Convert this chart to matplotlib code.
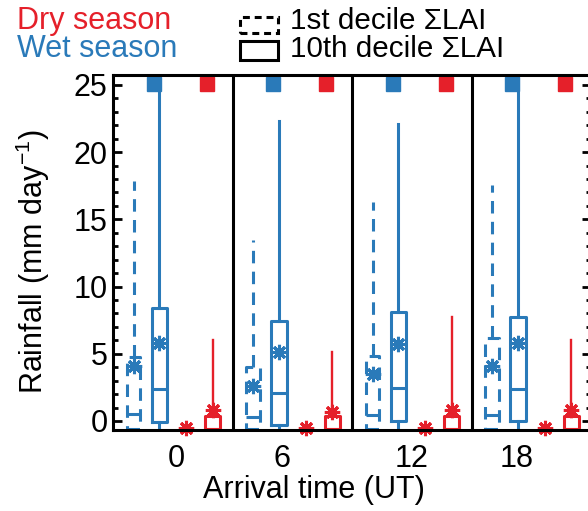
import numpy as np
import matplotlib
matplotlib.use('Agg')
import matplotlib.pyplot as plt
from matplotlib.patches import Rectangle
from matplotlib.ticker import MultipleLocator

plt.rcParams['font.family'] = ['Liberation Sans', 'DejaVu Sans']
plt.rcParams['mathtext.default'] = 'regular'
plt.rcParams['lines.scale_dashes'] = False

# arrival times (UT), one panel each
times = [0, 6, 12, 18]

# wet season, 1st decile sum LAI
wet_d1_q1 = [-0.6, -0.6, -0.6, -0.6]
wet_d1_med = [0.53, 0.33, 0.43, 0.48]
wet_d1_q3 = [4.73, 3.99, 4.83, 6.2]
wet_d1_hi = [17.83, 13.43, 16.26, 17.52]
wet_d1_mean = [4.1, 2.63, 3.47, 4.1]

# wet season, 10th decile sum LAI
wet_d10_lo = [-0.6, -0.6, -0.6, -0.6]
wet_d10_q1 = [-0.1, -0.3, 0.0, 0.0]
wet_d10_med = [2.37, 2.05, 2.42, 2.37]
wet_d10_q3 = [8.4, 7.45, 8.08, 7.77]
wet_d10_hi = [27, 22.34, 22.13, 27]
wet_d10_mean = [5.78, 5.1, 5.72, 5.78]

# dry season, 1st decile sum LAI
dry_d1_mean = [-0.5, -0.5, -0.5, -0.5]

# dry season, 10th decile sum LAI
dry_d10_lo = [-0.6, -0.6, -0.6, -0.6]
dry_d10_q3 = [0.38, 0.38, 0.38, 0.38]
dry_d10_hi = [5.99, 5.15, 7.77, 5.99]
dry_d10_mean = [0.85, 0.64, 0.8, 0.8]

# significance markers (drawn at top)
sig_wet = [1, 1, 1, 1]
sig_dry = [1, 1, 1, 1]

BLUE = '#2a7ab9'
RED = '#e5202a'
LW = 2.2
DASH = (0, (9, 6))

fig = plt.figure(figsize=(5.88, 5.11), dpi=100)
ax = fig.add_axes([113 / 588, 81 / 511, 478 / 588, 355 / 511])

panel = np.arange(len(times))
off = [0.172, 0.389, 0.615, 0.835]


def draw(stats, pos, width, color, ls, wlw):
    props = dict(color=color, linewidth=LW, linestyle=ls)
    res = ax.bxp(stats, positions=pos, widths=width, showmeans=True,
                 showcaps=False, showfliers=False, manage_ticks=False,
                 boxprops=props, medianprops=props,
                 whiskerprops=dict(color=color, linewidth=wlw, linestyle=ls),
                 meanprops=dict(marker=(8, 2, 0), markersize=11,
                                markeredgecolor=color, markeredgewidth=2.2,
                                linestyle='none'))
    for m in res['means']:
        m.set_clip_on(False)


n = len(times)
st = [dict(q1=wet_d1_q1[i], med=wet_d1_med[i], q3=wet_d1_q3[i],
           whislo=wet_d1_q1[i], whishi=wet_d1_hi[i], mean=wet_d1_mean[i],
           fliers=[]) for i in range(n)]
draw(st, panel + off[0], 0.113, BLUE, DASH, LW)

st = [dict(q1=wet_d10_q1[i], med=wet_d10_med[i], q3=wet_d10_q3[i],
           whislo=wet_d10_lo[i], whishi=wet_d10_hi[i], mean=wet_d10_mean[i],
           fliers=[]) for i in range(n)]
draw(st, panel + off[1], 0.126, BLUE, '-', LW)

st = [dict(q1=-0.6, med=-0.6, q3=-0.6, whislo=-0.6, whishi=-0.6,
           mean=dry_d1_mean[i], fliers=[]) for i in range(n)]
draw(st, panel + off[2], 0.113, RED, DASH, 1.7)

st = [dict(q1=dry_d10_lo[i], med=dry_d10_lo[i], q3=dry_d10_q3[i],
           whislo=dry_d10_lo[i], whishi=dry_d10_hi[i],
           mean=dry_d10_mean[i], fliers=[]) for i in range(n)]
draw(st, panel + off[3], 0.126, RED, '-', 1.7)

for i in range(n):
    if sig_wet[i]:
        ax.plot(panel[i] + off[1] - 0.05, 25.07, 's', ms=9.5, color=BLUE)
    if sig_dry[i]:
        ax.plot(panel[i] + off[3] - 0.05, 25.07, 's', ms=9.5, color=RED)

for x in panel[1:]:
    ax.axvline(x, color='k', lw=LW, zorder=3)

ax.set_xlim(0, n)
ax.set_ylim(-0.67, 25.74)
ax.set_yticks(range(0, 26, 5))
ax.yaxis.set_minor_locator(MultipleLocator(1))
ax.tick_params(axis='y', which='both', direction='in', right=True,
               width=2, labelsize=22, pad=4)
ax.tick_params(axis='y', which='major', length=6.5)
ax.tick_params(axis='y', which='minor', length=3.5)
label_x = [0.527, 1.414, 2.502, 3.381]
ax.set_xticks(label_x, [str(t) for t in times])
ax.tick_params(axis='x', length=0, labelsize=22, pad=10)
for s in ax.spines.values():
    s.set_linewidth(LW)

fig.text(33 / 588, 1 - 262 / 511, 'Rainfall (mm day$^{-1}$)', rotation=90,
         ha='center', va='center', fontsize=22)
fig.text(314 / 588, 1 - 490 / 511, 'Arrival time (UT)', ha='center',
         va='center', fontsize=22)

# legend
fig.text(17 / 588, 1 - 21 / 511, 'Dry season', color=RED, fontsize=22,
         ha='left', va='center')
fig.text(17 / 588, 1 - 49 / 511, 'Wet season', color=BLUE, fontsize=22,
         ha='left', va='center')
fig.add_artist(Rectangle((240 / 588, 1 - 33 / 511), 38 / 588, 16 / 511,
                         transform=fig.transFigure, fill=False, lw=LW,
                         ls=(0, (5, 3.5)), color='k'))
fig.add_artist(Rectangle((240 / 588, 1 - 60 / 511), 38 / 588, 19 / 511,
                         transform=fig.transFigure, fill=False, lw=LW,
                         color='k'))
fig.text(290 / 588, 1 - 21 / 511, '1st decile \u03a3LAI', fontsize=21.3,
         ha='left', va='center')
fig.text(290 / 588, 1 - 49 / 511, '10th decile \u03a3LAI', fontsize=21.3,
         ha='left', va='center')

fig.savefig('out.png', dpi=100)
